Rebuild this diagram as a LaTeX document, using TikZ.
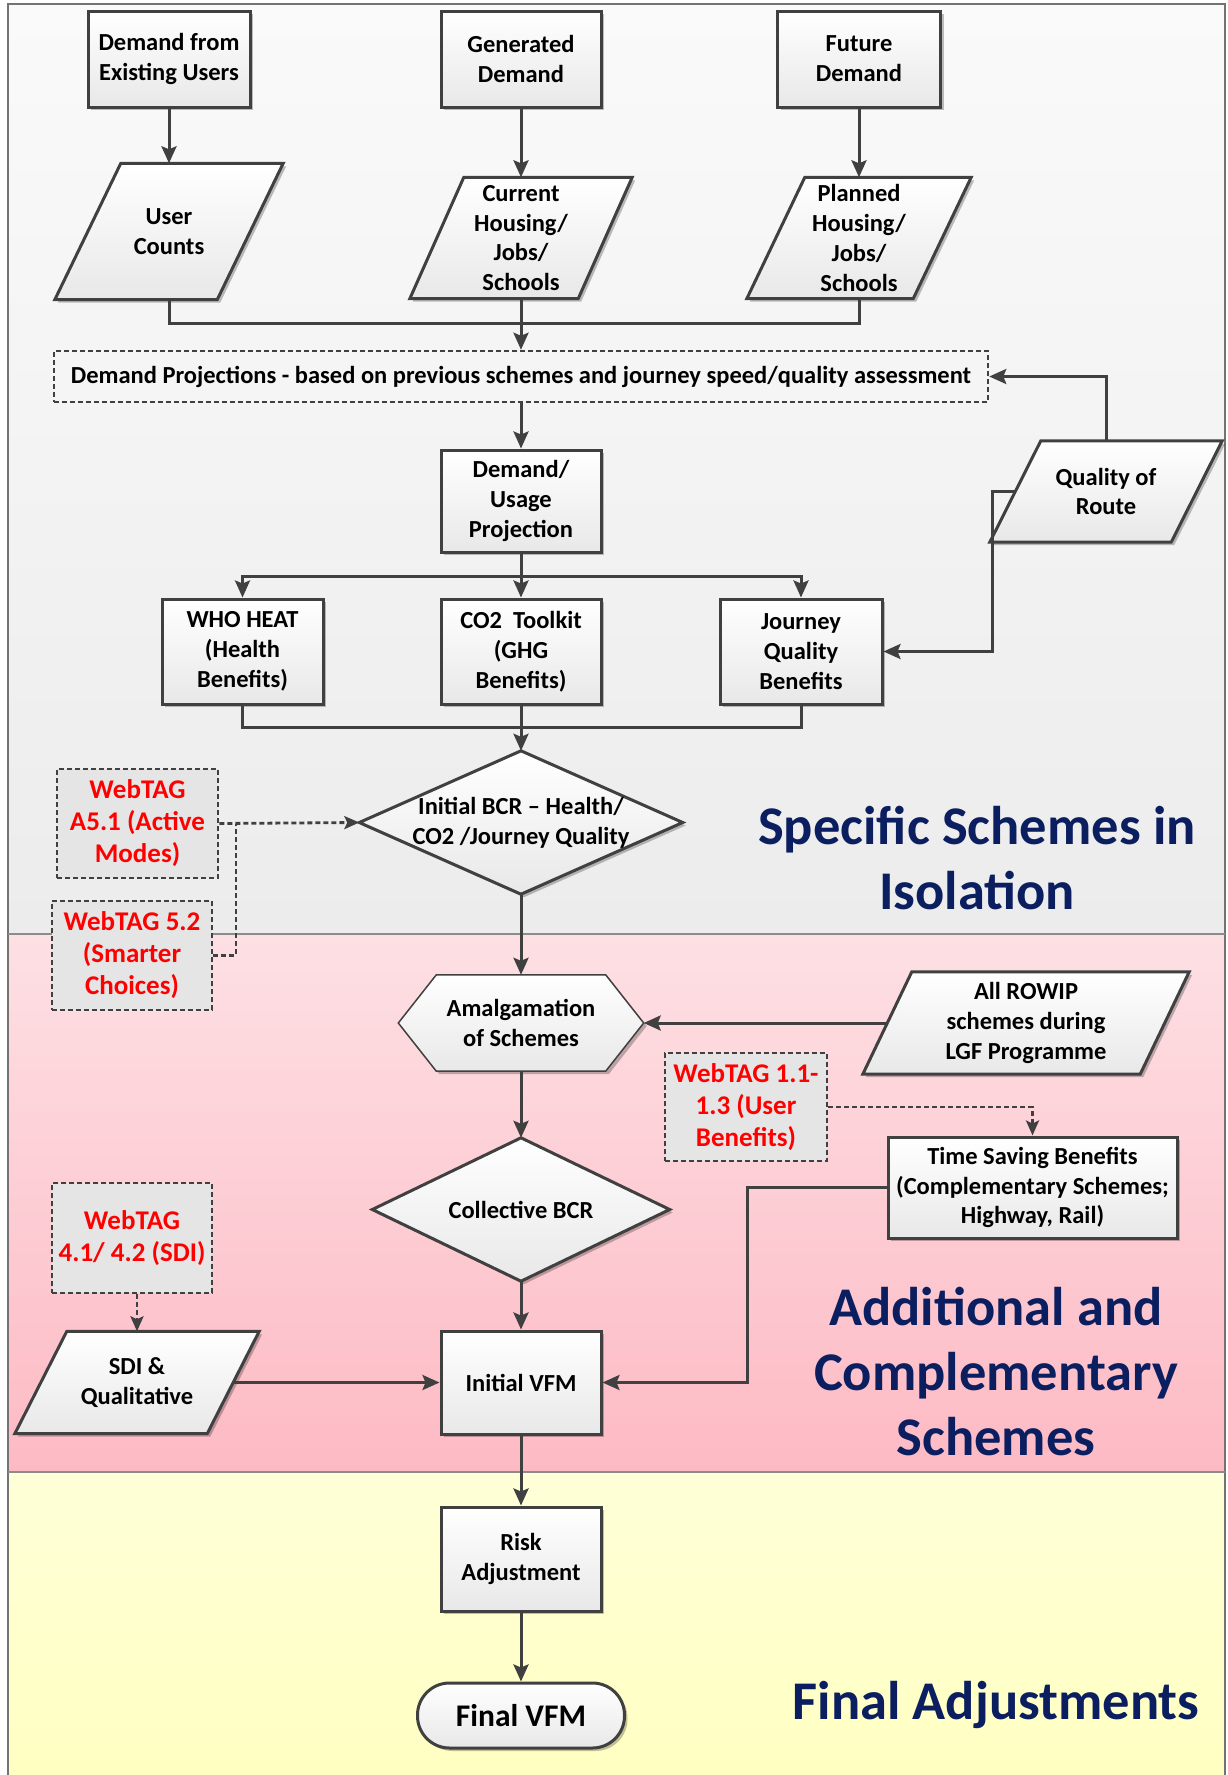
\documentclass[tikz,border=0pt]{standalone}
\usepackage{fontspec}
\setmainfont{Carlito}
\usetikzlibrary{arrows.meta,shadows,calc}
\definecolor{lc}{HTML}{404040}
\definecolor{navy}{HTML}{0B1F60}
\definecolor{gtop}{HTML}{FAFAFA}
\definecolor{gbot}{HTML}{ECECEC}
\definecolor{ptop}{HTML}{FDE0E4}
\definecolor{pbot}{HTML}{FDBAC4}
\definecolor{ytop}{HTML}{FFFFD8}
\definecolor{ybot}{HTML}{FFFFC2}
\pgfdeclarelayer{bg}
\pgfdeclarelayer{shp}
\pgfsetlayers{bg,shp,main}
\tikzset{
  txt/.style={font=\fontsize{24.5}{29.8}\selectfont\bfseries, align=center, text=black, inner sep=0pt},
  myshadow/.style={drop shadow={shadow xshift=3pt, shadow yshift=-3pt, opacity=0.25, fill=black}},
  pbox/.style={txt, draw=lc, line width=3pt, top color=white, bottom color=black!9, myshadow},
  ghost/.style={txt},
  outline/.style={draw=lc, line width=3pt, line join=miter, top color=white, bottom color=black!9, myshadow},
  refbox/.style={font=\fontsize{27}{32}\selectfont\bfseries, text=red, align=center, draw=lc, line width=2.8pt, dash pattern=on 5pt off 3pt, fill=black!10, inner sep=0pt},
  conn/.style={draw=lc, line width=3pt},
  arr/.style={conn, -{Stealth[length=17pt,width=15pt,inset=3pt]}},
  dconn/.style={draw=lc, line width=2.8pt, dash pattern=on 5pt off 3pt},
  darr/.style={dconn, -{Stealth[length=15pt,width=13pt,inset=3pt]}},
  heading/.style={font=\fontsize{54.5}{65}\selectfont\bfseries, text=navy, align=center, inner sep=0pt},
}
\begin{document}
\begin{tikzpicture}[x=1pt,y=-1pt]
\useasboundingbox (0,0) rectangle (1227,1775);
\begin{pgfonlayer}{bg}
  \fill[white] (0,0) rectangle (1227,1775);
  \shade[top color=gtop, bottom color=gbot] (8,4) rectangle (1225,934);
  \shade[top color=ptop, bottom color=pbot] (8,934) rectangle (1225,1472);
  \shade[top color=ytop, bottom color=ybot] (8,1472) rectangle (1225,1775);
  \draw[black!55, line width=1.5pt] (8,4) rectangle (1225,1776);
  \draw[black!45, line width=2pt] (8,934) -- (1225,934);
  \draw[black!45, line width=2pt] (8,1472) -- (1225,1472);
\end{pgfonlayer}

% top row
\node[pbox, minimum width=162pt, minimum height=96pt] (dfe) at (169,59) {Demand from\\Existing Users};
\node[pbox, minimum width=160pt, minimum height=96pt] (gd) at (521,59) {Generated\\Demand};
\node[pbox, minimum width=163pt, minimum height=96pt] (fd) at (859,59) {Future\\Demand};
\node[ghost, minimum width=162pt, minimum height=136pt] (uc) at (169,231.5) {User\\Counts};
\node[ghost, minimum width=168pt, minimum height=121pt] (ch) at (521,238) {Current\\Housing/\\Jobs/\\Schools};
\node[ghost, minimum width=166pt, minimum height=121pt] (ph) at (859,238) {Planned\\Housing/\\Jobs/\\Schools};
\node[txt, draw=lc, line width=2.5pt, dash pattern=on 5pt off 3pt, fill=black!4, minimum width=934pt, minimum height=51pt] (dp) at (521,376.5) {Demand Projections - based on previous schemes and journey speed/quality assessment};
\node[pbox, minimum width=160pt, minimum height=102pt] (du) at (521,501) {Demand/\\Usage\\Projection};
\node[ghost, minimum width=181pt, minimum height=101pt] (qr) at (1106,491.5) {Quality of\\Route};
\node[pbox, minimum width=161pt, minimum height=105pt] (who) at (242.5,651.5) {WHO HEAT\\(Health\\Benefits)};
\node[pbox, minimum width=160pt, minimum height=105pt] (co2) at (521,651.5) {CO2~~Toolkit\\(GHG\\Benefits)};
\node[pbox, minimum width=162pt, minimum height=105pt] (jq) at (801,651.5) {Journey\\Quality\\Benefits};
\node[ghost, minimum width=323pt, minimum height=143pt] (ibcr) at (521,822.5) {Initial BCR – Health/\\CO2 /Journey Quality};
\node[refbox, minimum width=161pt, minimum height=109pt] (wa) at (137.5,823.5) {WebTAG\\A5.1 (Active\\Modes)};
\node[refbox, minimum width=160pt, minimum height=109pt] (wb) at (132,955.5) {WebTAG 5.2\\(Smarter\\Choices)};
\node[heading] (h1) at (977,858) {Specific Schemes in\\Isolation};

% middle
\node[ghost, minimum width=245pt, minimum height=96pt] (am) at (521,1023) {Amalgamation\\of Schemes};
\node[ghost, minimum width=277pt, minimum height=102pt] (rw) at (1026,1023) {All ROWIP\\schemes during\\LGF Programme};
\node[refbox, minimum width=162pt, minimum height=108pt] (wc) at (746,1107) {WebTAG 1.1-\\1.3 (User\\Benefits)};
\node[pbox, minimum width=289pt, minimum height=101pt] (ts) at (1032.5,1187.5) {Time Saving Benefits\\(Complementary Schemes;\\Highway, Rail)};
\node[ghost, minimum width=297pt, minimum height=143pt] (cb) at (521,1209.5) {Collective BCR};
\node[refbox, minimum width=160pt, minimum height=110pt] (wd) at (132,1238) {WebTAG\\4.1/ 4.2 (SDI)};
\node[ghost, minimum width=192pt, minimum height=102pt] (sdi) at (137,1382.5) {SDI \&\\Qualitative};
\node[pbox, minimum width=160pt, minimum height=103pt] (iv) at (521,1382.5) {Initial VFM};
\node[heading] (h2) at (996,1372) {Additional and\\Complementary\\Schemes};

% bottom
\node[pbox, minimum width=160pt, minimum height=104pt] (ra) at (521,1559) {Risk\\Adjustment};
\node[pbox, rounded corners=32pt, minimum width=207pt, minimum height=65pt, font=\fontsize{31.5}{36}\selectfont\bfseries] (fv) at (521,1715.5) {Final VFM};
\node[heading] (h3) at (996,1705) {Final Adjustments};

% outlines of non-rectangular shapes
\begin{pgfonlayer}{shp}
  \path[outline] ([xshift=-33pt]uc.south west) -- ([xshift=33pt]uc.north west) -- ([xshift=33pt]uc.north east) -- ([xshift=-33pt]uc.south east) -- cycle;
  \path[outline] ([xshift=-27pt]ch.south west) -- ([xshift=27pt]ch.north west) -- ([xshift=27pt]ch.north east) -- ([xshift=-27pt]ch.south east) -- cycle;
  \path[outline] ([xshift=-29pt]ph.south west) -- ([xshift=29pt]ph.north west) -- ([xshift=29pt]ph.north east) -- ([xshift=-29pt]ph.south east) -- cycle;
  \path[outline] ([xshift=-25.5pt]qr.south west) -- ([xshift=25.5pt]qr.north west) -- ([xshift=25.5pt]qr.north east) -- ([xshift=-25.5pt]qr.south east) -- cycle;
  \path[outline] ([xshift=-24.5pt]rw.south west) -- ([xshift=24.5pt]rw.north west) -- ([xshift=24.5pt]rw.north east) -- ([xshift=-24.5pt]rw.south east) -- cycle;
  \path[outline] ([xshift=-26pt]sdi.south west) -- ([xshift=26pt]sdi.north west) -- ([xshift=26pt]sdi.north east) -- ([xshift=-26pt]sdi.south east) -- cycle;
  \path[outline] (ibcr.north) -- (ibcr.east) -- (ibcr.south) -- (ibcr.west) -- cycle;
  \path[outline] (cb.north) -- (cb.east) -- (cb.south) -- (cb.west) -- cycle;
  \path[outline, line width=1.5pt] (am.west) -- ([xshift=38pt]am.north west) -- ([xshift=-38pt]am.north east) -- (am.east) -- ([xshift=-38pt]am.south east) -- ([xshift=38pt]am.south west) -- cycle;
\end{pgfonlayer}

% connectors
\coordinate (m1) at (521,323);
\coordinate (b1) at (521,576);
\coordinate (m2) at (521,727);
\coordinate (j1) at (236,823.5);
\draw[arr] (dfe.south) -- (uc.north);
\draw[arr] (gd.south) -- (ch.north);
\draw[arr] (fd.south) -- (ph.north);
\draw[conn] (uc.south) |- (m1);
\draw[conn] (ph.south) |- (m1);
\draw[arr] (ch.south) -- (dp.north);
\draw[arr] (qr.north) |- (dp.east);
\draw[arr] (dp.south) -- (du.north);
\draw[conn] (du.south) -- (b1);
\draw[arr] (b1) -- (co2.north);
\draw[arr] (b1) -| (who.north);
\draw[arr] (b1) -| (jq.north);
\draw[conn] (who.south) |- (m2);
\draw[conn] (jq.south) |- (m2);
\draw[arr] (co2.south) -- (ibcr.north);
\draw[arr] (qr.west) -- ++(-23,0) |- (jq.east);
\draw[darr] (wa.east) -- (ibcr.west);
\draw[dconn] (wb.east) -| (j1);
\draw[arr] (ibcr.south) -- (am.north);
\draw[arr] (rw.west) -- (am.east);
\draw[darr] (wc.east) -| (ts.north);
\draw[arr] (am.south) -- (cb.north);
\draw[arr] (cb.south) -- (iv.north);
\draw[arr] (ts.west) -- ++(-139,0) |- (iv.east);
\draw[darr] (wd.south -| sdi.north) -- (sdi.north);
\draw[arr] (sdi.east) -- (iv.west);
\draw[arr] (iv.south) -- (ra.north);
\draw[arr] (ra.south) -- (fv.north);
\end{tikzpicture}
\end{document}
